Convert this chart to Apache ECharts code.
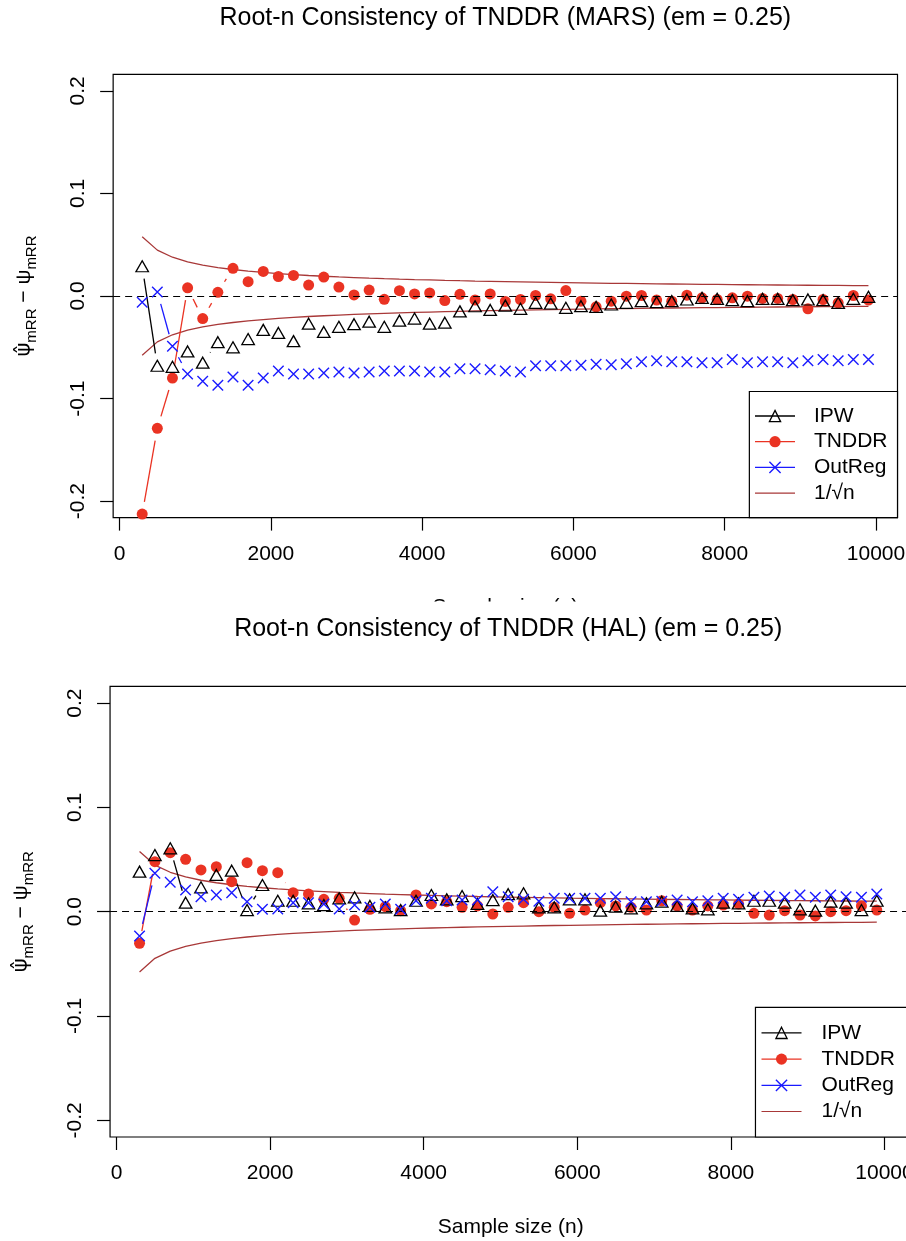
<!DOCTYPE html>
<html>
<head>
<meta charset="utf-8">
<script src="https://cdn.jsdelivr.net/npm/echarts@6.0.0/dist/echarts.min.js"></script>
<style>
html,body{margin:0;padding:0;background:#ffffff;}
#chart{width:906px;height:1241px;}
</style>
</head>
<body>
<div id="chart"></div>
<script>
// ---------------- data ----------------
const sampleSizes = [300, 500, 700, 900,
  1100, 1300, 1500, 1700, 1900,
  2100, 2300, 2500, 2700, 2900,
  3100, 3300, 3500, 3700, 3900,
  4100, 4300, 4500, 4700, 4900,
  5100, 5300, 5500, 5700, 5900,
  6100, 6300, 6500, 6700, 6900,
  7100, 7300, 7500, 7700, 7900,
  8100, 8300, 8500, 8700, 8900,
  9100, 9300, 9500, 9700, 9900];

const marsIPW = [0.029, -0.068, -0.069, -0.054,
  -0.065, -0.045, -0.050, -0.042, -0.033,
  -0.036, -0.044, -0.027, -0.035, -0.030,
  -0.0275, -0.025, -0.030, -0.024, -0.022,
  -0.027, -0.026, -0.015, -0.010, -0.0136,
  -0.0094, -0.0125, -0.0066, -0.0073, -0.0115,
  -0.0099, -0.0105, -0.0083, -0.0066, -0.0050,
  -0.0060, -0.0050, -0.0034, -0.0018, -0.0027,
  -0.0040, -0.0050, -0.0027, -0.0027, -0.0040,
  -0.0034, -0.0040, -0.0066, -0.0027, -0.0008];

const marsTNDDR = [-0.2126, -0.129, -0.080, 0.008,
  -0.022, 0.0036, 0.027, 0.014, 0.024,
  0.019, 0.020, 0.0107, 0.0184, 0.0087,
  0.001, 0.0058, -0.0032, 0.0052, 0.002,
  0.003, -0.0045, 0.0016, -0.0039, 0.002,
  -0.0053, -0.0034, 0.0005, -0.0027, 0.0053,
  -0.005, -0.0105, -0.005, -0.0002, 0.0005,
  -0.004, -0.005, 0.0008, -0.0018, -0.0034,
  -0.0018, -0.0002, -0.0024, -0.0024, -0.0034,
  -0.0125, -0.0034, -0.0066, 0.0005, -0.004];

const marsOutReg = [-0.006, 0.004, -0.049, -0.076,
  -0.083, -0.087, -0.079, -0.087, -0.080,
  -0.073, -0.076, -0.076, -0.075, -0.074,
  -0.075, -0.074, -0.073, -0.073, -0.073,
  -0.074, -0.074, -0.071, -0.071, -0.072,
  -0.073, -0.074, -0.068, -0.068, -0.068,
  -0.0675, -0.0665, -0.067, -0.066, -0.064,
  -0.063, -0.064, -0.064, -0.065, -0.065,
  -0.062, -0.065, -0.064, -0.064, -0.065,
  -0.063, -0.062, -0.063, -0.062, -0.062];

const halIPW = [0.0384, 0.0543, 0.0608, 0.0086,
  0.0234, 0.0352, 0.0393, 0.0016, 0.0256,
  0.0105, 0.0105, 0.008, 0.0064, 0.0128,
  0.0138, 0.0055, 0.0042, 0.0016, 0.0105,
  0.016, 0.0119, 0.015, 0.0074, 0.0112,
  0.0168, 0.0176, 0.0042, 0.0042, 0.0119,
  0.0119, 0.001, 0.0048, 0.0032, 0.008,
  0.0096, 0.0055, 0.0032, 0.0023, 0.0086,
  0.008, 0.0105, 0.0105, 0.0086, 0.0023,
  0.001, 0.0096, 0.0086, 0.0016, 0.0105];

const halTNDDR = [-0.0303, 0.048, 0.0566, 0.0502,
  0.040, 0.0431, 0.0288, 0.047, 0.0393,
  0.0374, 0.0182, 0.017, 0.0119, 0.0128,
  -0.008, 0.0023, 0.0048, 0.001, 0.016,
  0.0074, 0.0096, 0.0042, 0.0055, -0.0022,
  0.0042, 0.0086, 0.0, 0.0042, -0.0015,
  0.0016, 0.0086, 0.0055, 0.0042, 0.0016,
  0.0105, 0.0055, 0.0016, 0.0055, 0.0064,
  0.0074, -0.0015, -0.0032, 0.001, -0.0032,
  -0.0041, 0.0, 0.001, 0.0055, 0.0016];

const halOutReg = [-0.0233, 0.0368, 0.0282, 0.0208,
  0.0144, 0.016, 0.0182, 0.0096, 0.0023,
  0.0026, 0.0086, 0.0086, 0.0074, 0.0026,
  0.0064, 0.0042, 0.0074, 0.0023, 0.0105,
  0.0128, 0.0105, 0.0112, 0.0112, 0.0192,
  0.0144, 0.012, 0.010, 0.0128, 0.0128,
  0.0128, 0.0128, 0.0144, 0.0096, 0.0096,
  0.010, 0.0112, 0.0096, 0.0105, 0.0128,
  0.0119, 0.0138, 0.015, 0.0138, 0.016,
  0.0138, 0.016, 0.0144, 0.0138, 0.017];

// 1/sqrt(n) reference band values at each sample size
const rootN = [0.05774, 0.04472, 0.03780, 0.03333,
  0.03015, 0.02774, 0.02582, 0.02425, 0.02294,
  0.02182, 0.02085, 0.02000, 0.01925, 0.01857,
  0.01796, 0.01741, 0.01690, 0.01644, 0.01601,
  0.01562, 0.01525, 0.01491, 0.01459, 0.01429,
  0.01400, 0.01374, 0.01348, 0.01325, 0.01302,
  0.01280, 0.01260, 0.01240, 0.01222, 0.01204,
  0.01187, 0.01170, 0.01155, 0.01140, 0.01125,
  0.01111, 0.01098, 0.01085, 0.01072, 0.01060,
  0.01048, 0.01037, 0.01026, 0.01015, 0.01005];

const xTicks = [0, 2000, 4000, 6000, 8000, 10000];
const yTicks = [-0.2, -0.1, 0.0, 0.1, 0.2];
const panelTitles = ['Root-n Consistency of TNDDR (MARS) (em = 0.25)', 'Root-n Consistency of TNDDR (HAL) (em = 0.25)'];
const seriesNames = ['IPW', 'TNDDR', 'OutReg', '1/√n'];
const xLabelText = 'Sample size (n)';

// ---------------- styling / layout ----------------
const FONT = "'Liberation Sans', Arial, Helvetica, sans-serif";
const C_IPW = '#000000', C_TN = '#ea3323', C_OR = '#1a1aff', C_RT = '#a83838';
const GAP = 12.5;
const X_SYMBOL = 'path://M0,0L10,10M10,0L0,10';
const LINE_ICON = 'path://M0,0L0.01,0M0,6.4L40,6.4L40,7.6L0,7.6ZM0,14L0.01,14';

const layouts = [
  { grid: {left: 113.15, top: 74.4, width: 784.35, height: 443.2}, xMax: 10284,
    legend: {right: 8.5, bottom: 1241 - 517.6, padding: [14, 10, 14, 5], itemGap: 4.7, textPad: 14},
    title: {x: 505.3, y: 18} },
  { grid: {left: 110.05, top: 686.4, width: 801.3, height: 450.6}, xMax: 10350,
    legend: {right: -6, bottom: 1241 - 1137, padding: [15, 17, 15, 5.4], itemGap: 5.2, textPad: 15},
    title: {x: 508.2, y: 629} }
];
const panelData = [
  {ipw: marsIPW, tn: marsTNDDR, or: marsOutReg},
  {ipw: halIPW, tn: halTNDDR, or: halOutReg}
];

function pts(vals) { return sampleSizes.map((n, i) => [n, vals[i]]); }

function segSeries(id, pi, vals, color) {
  const data = [];
  for (let i = 1; i < sampleSizes.length; i++) {
    data.push([sampleSizes[i - 1], vals[i - 1], sampleSizes[i], vals[i]]);
  }
  return {
    type: 'custom', name: id, xAxisIndex: pi, yAxisIndex: pi, data: data, silent: true, z: 3,
    encode: {x: [0, 2], y: [1, 3]},
    renderItem: function (params, api) {
      const p0 = api.coord([api.value(0), api.value(1)]);
      const p1 = api.coord([api.value(2), api.value(3)]);
      const dx = p1[0] - p0[0], dy = p1[1] - p0[1];
      const L = Math.sqrt(dx * dx + dy * dy);
      if (L <= 2 * GAP) return {type: 'group', children: []};
      const ux = dx / L, uy = dy / L;
      return {
        type: 'line',
        shape: {x1: p0[0] + ux * GAP, y1: p0[1] + uy * GAP, x2: p1[0] - ux * GAP, y2: p1[1] - uy * GAP},
        style: {stroke: color, lineWidth: 1.3}
      };
    }
  };
}

function markerSeries(name, pi, vals, opts) {
  return {
    type: 'line', name: name, xAxisIndex: pi, yAxisIndex: pi, data: pts(vals),
    symbol: opts.symbol, symbolSize: opts.size, showSymbol: true, showAllSymbol: true,
    lineStyle: {opacity: 0, width: 1.3, color: opts.color},
    itemStyle: opts.item, z: opts.z, silent: true, emphasis: {disabled: true}
  };
}

const series = [];
const grids = [], xAxes = [], yAxes = [], legends = [], graphics = [];

layouts.forEach((lay, pi) => {
  const d = panelData[pi];
  grids.push(Object.assign({show: true, borderColor: '#000', borderWidth: 1.2, backgroundColor: 'transparent',
    containLabel: false, outerBoundsMode: 'none'}, lay.grid));
  xAxes.push({
    type: 'value', gridIndex: pi, min: -84, max: lay.xMax,
    axisLine: {show: false, onZero: false},
    splitLine: {show: false},
    axisTick: {show: true, customValues: xTicks, length: 13, lineStyle: {color: '#000', width: 1.2}},
    axisLabel: {customValues: xTicks, formatter: v => String(v), margin: 26, fontSize: 21, color: '#000', fontFamily: FONT},
    name: xLabelText, nameLocation: 'middle', nameGap: 79.5,
    nameTextStyle: {fontSize: 21, color: '#000', fontFamily: FONT}
  });
  yAxes.push({
    type: 'value', gridIndex: pi, min: -0.216, max: 0.216,
    axisLine: {show: false, onZero: false},
    splitLine: {show: false},
    axisTick: {show: true, customValues: yTicks, length: 13, lineStyle: {color: '#000', width: 1.2}},
    axisLabel: {customValues: yTicks, rotate: 90, formatter: v => v.toFixed(1), margin: 24, fontSize: 21, color: '#000', fontFamily: FONT},
    name: '{h|ψ̂}{b|mRR}{a| − ψ}{b|mRR}', nameLocation: 'middle', nameRotate: 90, nameGap: 74,
    nameTextStyle: {
      color: '#000', fontFamily: FONT,
      rich: {
        h: {fontSize: 21, lineHeight: 30, verticalAlign: 'middle', fontFamily: "'DejaVu Sans', " + FONT, color: '#000'},
        a: {fontSize: 21, lineHeight: 30, verticalAlign: 'middle', fontFamily: FONT, color: '#000'},
        b: {fontSize: 15, lineHeight: 30, verticalAlign: 'bottom', fontFamily: FONT, color: '#000'}
      }
    }
  });

  // 1/sqrt(n) curves + zero line
  series.push({
    type: 'line', name: seriesNames[3], xAxisIndex: pi, yAxisIndex: pi, data: pts(rootN),
    symbol: 'none', lineStyle: {color: C_RT, width: 1.3}, itemStyle: {color: C_RT}, z: 2, silent: true,
    markLine: {
      silent: true, symbol: ['none', 'none'], label: {show: false},
      lineStyle: {color: '#000', type: [7, 5], width: 1.2},
      data: [{yAxis: 0}]
    }
  });
  series.push({
    type: 'line', name: seriesNames[3], xAxisIndex: pi, yAxisIndex: pi, data: pts(rootN.map(v => -v)),
    symbol: 'none', lineStyle: {color: C_RT, width: 1.3}, itemStyle: {color: C_RT}, z: 2, silent: true
  });

  // connecting segments (type = "b" style, gapped around points)
  series.push(segSeries('seg-ipw-' + pi, pi, d.ipw, C_IPW));
  series.push(segSeries('seg-tn-' + pi, pi, d.tn, C_TN));
  series.push(segSeries('seg-or-' + pi, pi, d.or, C_OR));

  // markers
  series.push(markerSeries(seriesNames[1], pi, d.tn, {
    symbol: 'circle', size: 11, color: C_TN, z: 4,
    item: {color: C_TN, borderColor: C_TN, borderWidth: 0}
  }));
  series.push(markerSeries(seriesNames[0], pi, d.ipw, {
    symbol: 'triangle', size: [12.5, 11], color: C_IPW, z: 5,
    item: {color: 'rgba(255,255,255,0)', borderColor: C_IPW, borderWidth: 1.3}
  }));
  series.push(markerSeries(seriesNames[2], pi, d.or, {
    symbol: X_SYMBOL, size: 10.5, color: C_OR, z: 6,
    item: {color: C_OR, borderColor: C_OR, borderWidth: 1.4}
  }));

  legends.push({
    orient: 'vertical', right: lay.legend.right, bottom: lay.legend.bottom,
    padding: lay.legend.padding, itemGap: lay.legend.itemGap,
    itemWidth: 40, itemHeight: 14,
    borderColor: '#000', borderWidth: 1.2, borderRadius: 0, backgroundColor: '#fff',
    selectedMode: false, z: 10,
    textStyle: {fontSize: 21, lineHeight: 21, color: '#000', fontFamily: FONT, padding: [0, 0, 0, lay.legend.textPad]},
    lineStyle: {opacity: 1, width: 1.3},
    data: [
      {name: seriesNames[0], itemStyle: {borderWidth: 1.3}},
      {name: seriesNames[1], itemStyle: {borderWidth: 0}},
      {name: seriesNames[2], itemStyle: {borderWidth: 1.4}},
      {name: seriesNames[3], icon: LINE_ICON, itemStyle: {borderWidth: 0}}
    ]
  });

  graphics.push({
    type: 'text', x: lay.title.x, y: lay.title.y, z: 120,
    style: {text: panelTitles[pi], fill: '#000', font: "25px " + FONT, align: 'center', verticalAlign: 'middle'}
  });
});

// the top panel's x-axis title is mostly hidden under the lower panel
graphics.push({
  type: 'rect', z: 100, shape: {x: 0, y: 601.5, width: 906, height: 26}, style: {fill: '#ffffff'}
});

const chart = echarts.init(document.getElementById('chart'), null, {renderer: 'canvas'});
chart.setOption({
  animation: false,
  backgroundColor: '#ffffff',
  grid: grids,
  xAxis: xAxes,
  yAxis: yAxes,
  legend: legends,
  graphic: graphics,
  series: series
});
</script>
</body>
</html>
